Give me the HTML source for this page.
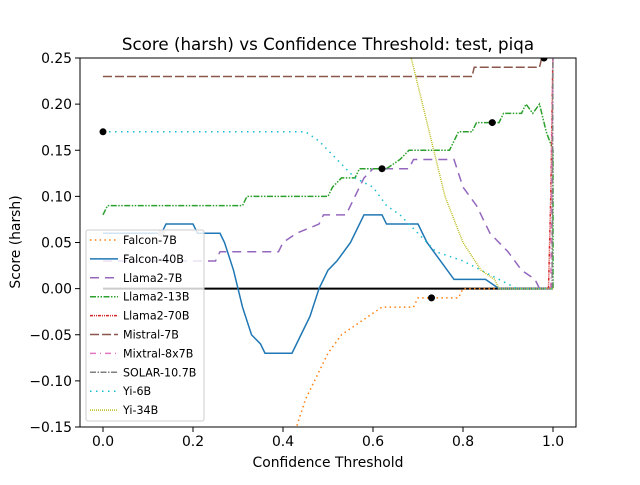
<!DOCTYPE html>
<html><head><meta charset="utf-8"><style>
body{margin:0;background:#fff;font-family:"Liberation Sans","DejaVu Sans",sans-serif}
svg text{font-family:"DejaVu Sans","Liberation Sans",sans-serif}
</style></head><body>
<svg id="c" width="640" height="480" xmlns="http://www.w3.org/2000/svg"></svg>
<script>
const xTicks=[0,0.2,0.4,0.6,0.8,1.0];
const xTickLabels=["0.0","0.2","0.4","0.6","0.8","1.0"];
const yTicks=[-0.15,-0.10,-0.05,0,0.05,0.10,0.15,0.20,0.25];
const yTickLabels=["−0.15","−0.10","−0.05","0.00","0.05","0.10","0.15","0.20","0.25"];
const seriesNames=["Falcon-7B","Falcon-40B","Llama2-7B","Llama2-13B","Llama2-70B","Mistral-7B","Mixtral-8x7B","SOLAR-10.7B","Yi-6B","Yi-34B"];
const falcon7b=[[0.38,-0.2],[0.43,-0.15],[0.45,-0.12],[0.47,-0.1],[0.5,-0.07],[0.53,-0.05],[0.56,-0.04],[0.59,-0.03],[0.62,-0.02],[0.69,-0.02],[0.7,-0.01],[0.79,-0.01],[0.8,0],[1,0]];
const falcon40b=[[0,0.06],[0.13,0.06],[0.14,0.07],[0.2,0.07],[0.21,0.06],[0.26,0.06],[0.27,0.05],[0.29,0.02],[0.31,-0.02],[0.33,-0.05],[0.35,-0.06],[0.36,-0.07],[0.42,-0.07],[0.44,-0.05],[0.46,-0.03],[0.48,0],[0.5,0.02],[0.52,0.03],[0.55,0.05],[0.57,0.07],[0.58,0.08],[0.62,0.08],[0.63,0.07],[0.7,0.07],[0.72,0.05],[0.75,0.03],[0.78,0.01],[0.85,0.01],[0.88,0],[1,0]];
const llama7b=[[0,0.03],[0.25,0.03],[0.26,0.04],[0.39,0.04],[0.4,0.05],[0.43,0.06],[0.48,0.07],[0.49,0.08],[0.54,0.08],[0.56,0.1],[0.58,0.12],[0.6,0.13],[0.68,0.13],[0.69,0.14],[0.78,0.14],[0.8,0.11],[0.83,0.09],[0.86,0.06],[0.9,0.04],[0.93,0.02],[0.96,0.01],[0.97,0],[1,0]];
const llama13b=[[0,0.08],[0.01,0.09],[0.31,0.09],[0.32,0.1],[0.5,0.1],[0.51,0.11],[0.53,0.12],[0.56,0.12],[0.57,0.13],[0.63,0.13],[0.66,0.14],[0.68,0.15],[0.77,0.15],[0.78,0.16],[0.79,0.17],[0.82,0.17],[0.83,0.18],[0.88,0.18],[0.89,0.19],[0.93,0.19],[0.94,0.2],[0.955,0.19],[0.97,0.2],[0.985,0.17],[1,0.15],[1,0]];
const llama70b=[[0.99,0],[0.995,0.1],[1,0.26]];
const mistral7b=[[0,0.23],[0.82,0.23],[0.825,0.24],[0.97,0.24],[0.98,0.26]];
const mixtral=[[0.995,0],[1,0.26]];
const solar=[[0.998,0],[1,0.26]];
const yi6b=[[0,0.17],[0.45,0.17],[0.48,0.16],[0.52,0.14],[0.56,0.12],[0.6,0.11],[0.63,0.09],[0.66,0.08],[0.7,0.06],[0.74,0.04],[0.8,0.03],[0.84,0.02],[0.88,0.01],[0.92,0],[1,0]];
const yi34b=[[0.68,0.26],[0.72,0.18],[0.76,0.1],[0.8,0.05],[0.84,0.02],[0.87,0.01],[0.88,0],[1,0]];
const markers=[[0,0.17],[0.62,0.13],[0.73,-0.01],[0.865,0.18],[0.98,0.25]];

const L=80,R=576,T=58,B=427;
const X=v=>103+v*450;
const Y=v=>B-(v+0.15)/0.40*(B-T);
const NS="http://www.w3.org/2000/svg";
const svg=document.getElementById('c');
function mk(tag,attrs,parent){const e=document.createElementNS(NS,tag);for(const k in attrs)e.setAttribute(k,attrs[k]);(parent||svg).appendChild(e);return e;}

const defs=mk('defs',{});
const cp=mk('clipPath',{id:'clip'},defs);
mk('rect',{x:L,y:T,width:R-L,height:B-T},cp);
const plot=mk('g',{'clip-path':'url(#clip)'});



const styles=[
 {c:'#ff7f0e',d:'1.5,3.3',w:1.5},
 {c:'#1f77b4',d:'',w:1.5},
 {c:'#9467bd',d:'9,6',w:1.5},
 {c:'#2ca02c',d:'6,1.5,1.5,1.5,1.5,1.5',w:1.5},
 {c:'#d62728',d:'3,1,1,1,1,1',w:1.5},
 {c:'#8c564b',d:'9,3',w:1.5},
 {c:'#e377c2',d:'6,4,1,4',w:1.5},
 {c:'#7f7f7f',d:'6,1.5,1.5,1.5',w:1.5},
 {c:'#17becf',d:'1.5,4.5',w:1.5},
 {c:'#bcbd22',d:'1,1',w:1.5}
];
const data=[falcon7b,falcon40b,llama7b,llama13b,llama70b,mistral7b,mixtral,solar,yi6b,yi34b];
const zl=mk('line',{x1:X(0),x2:X(1),y1:Y(0),y2:Y(0),stroke:'#000','stroke-width':2},plot);


data.forEach((s,i)=>{
 const p=mk('polyline',{points:s.map(q=>X(q[0])+','+Y(q[1])).join(' '),fill:'none',stroke:styles[i].c,'stroke-width':styles[i].w,'stroke-dasharray':styles[i].d},plot);
 
 
});
markers.forEach(m=>{
 const c=mk('circle',{cx:X(m[0]),cy:Y(m[1]),r:3.5,fill:'#000'},plot);
 
 
});
const gd=mk('circle',{cx:X(0.13),cy:Y(0.06),r:3.5,fill:'#bbb'},plot);



const fr=mk('rect',{x:L,y:T,width:R-L,height:B-T,fill:'none',stroke:'#000','stroke-width':1});



xTicks.forEach((v,i)=>{
 mk('line',{x1:X(v),x2:X(v),y1:B,y2:B+5,stroke:'#000'});
 const t=mk('text',{x:X(v),y:B+19,'text-anchor':'middle','font-size':13.9});
 t.textContent=xTickLabels[i];
 
 
});
yTicks.forEach((v,i)=>{
 mk('line',{x1:L-5,x2:L,y1:Y(v),y2:Y(v),stroke:'#000'});
 const t=mk('text',{x:L-8,y:Y(v)+5,'text-anchor':'end','font-size':13.9});
 t.textContent=yTickLabels[i];
 
 
});
const tt=mk('text',{x:328,y:50,'text-anchor':'middle','font-size':16.7});
tt.textContent='Score (harsh) vs Confidence Threshold: test, piqa';


const xt=mk('text',{x:328,y:467,'text-anchor':'middle','font-size':13.9});
xt.textContent='Confidence Threshold';


const yt=mk('text',{x:20,y:242,'text-anchor':'middle','font-size':13.9,transform:'rotate(-90 20 242)'});
yt.textContent='Score (harsh)';



const lg=mk('g',{});


mk('rect',{x:86,y:230,width:118,height:191,rx:2,fill:'#fff','fill-opacity':0.8,stroke:'#ccc'},lg);
seriesNames.forEach((n,i)=>{
 const y=240+i*18.9;
 const e=mk('g',{},lg);
 
 
 mk('line',{x1:90,x2:118,y1:y,y2:y,stroke:styles[i].c,'stroke-width':styles[i].w,'stroke-dasharray':styles[i].d},e);
 const t=mk('text',{x:123,y:y+4,'font-size':11.1},e);
 t.textContent=n;
});
</script>
</body></html>
